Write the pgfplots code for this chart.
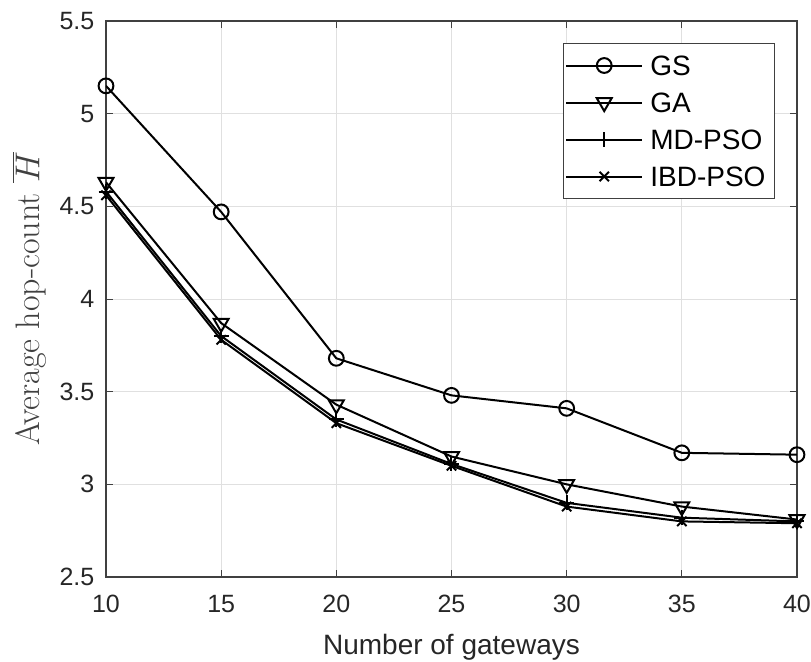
\documentclass[border=0pt]{standalone}
\usepackage{fontspec}
\setsansfont{Liberation Sans}
\usepackage{pgfplots}
\pgfplotsset{compat=1.18}

\definecolor{axgray}{gray}{0.25}
\definecolor{gridgray}{gray}{0.88}

\begin{document}
\begin{tikzpicture}
\begin{axis}[
    width=345.5pt, height=278pt,
    scale only axis,
    xmin=10, xmax=40, ymin=2.5, ymax=5.5,
    xtick={10,15,...,40},
    ytick={2.5,3,...,5.5},
    yticklabel style={/pgf/number format/fixed, xshift=-2.3pt},
    xticklabel style={yshift=-5.6pt},
    tick align=inside,
    major tick length=3.5pt,
    every tick/.style={axgray, line width=0.5pt},
    axis line style={axgray, line width=0.6pt},
    grid=major,
    major grid style={gridgray, line width=0.5pt},
    tick label style={font=\sffamily\fontsize{12.5}{14}\selectfont, text=black!85},
    /pgf/number format/assume math mode=true,
    xlabel={\sffamily\fontsize{14}{16}\selectfont Number of gateways},
    ylabel={\fontsize{17}{19}\selectfont Average hop-count $\overline{H}$},
    xlabel style={at={(rel axis cs:0.5,0)}, anchor=north, yshift=-25.3pt, text=black!85},
    ylabel style={at={([xshift=-38.5pt]rel axis cs:0,0.5)}, anchor=center, text=black!75},
    legend style={at={(rel axis cs:1,1)}, anchor=north east,
      xshift=-11pt, yshift=-11pt,
      draw=axgray, line width=0.5pt,
      font=\sffamily\fontsize{14}{16}\selectfont,
      row sep=0pt, inner xsep=1pt, inner ysep=1.75pt,
      nodes={text height=10pt, text depth=0pt, inner ysep=4.25pt, inner xsep=3.5pt},
      cells={anchor=west}},
    legend image code/.code={%
      \draw[mark repeat=2, mark phase=2] plot coordinates {(0cm,0cm) (0.67cm,0cm) (1.34cm,0cm)};},
]
\addplot[black, line width=1pt, mark=o, mark size=3.7pt, mark options={solid, fill=none}] coordinates {
(10,5.15) (15,4.47) (20,3.68) (25,3.48) (30,3.41) (35,3.17) (40,3.16)};
\addplot[black, line width=1pt, mark=triangle, mark size=4.3pt, mark options={solid, fill=none, rotate=180}] coordinates {
(10,4.63) (15,3.87) (20,3.43) (25,3.15) (30,3.00) (35,2.88) (40,2.81)};
\addplot[black, line width=1pt, mark=+, mark size=3.7pt, mark options={solid}] coordinates {
(10,4.58) (15,3.80) (20,3.35) (25,3.11) (30,2.90) (35,2.82) (40,2.80)};
\addplot[black, line width=1pt, mark=x, mark size=3.3pt, mark options={solid}] coordinates {
(10,4.56) (15,3.78) (20,3.33) (25,3.10) (30,2.88) (35,2.80) (40,2.79)};
\legend{GS, GA, MD-PSO, IBD-PSO}
\end{axis}
\pgfresetboundingbox
\path[use as bounding box] (current axis.south west) ++(-53pt,-42pt) rectangle ++(405.5pt,330.5pt);
\end{tikzpicture}
\end{document}
